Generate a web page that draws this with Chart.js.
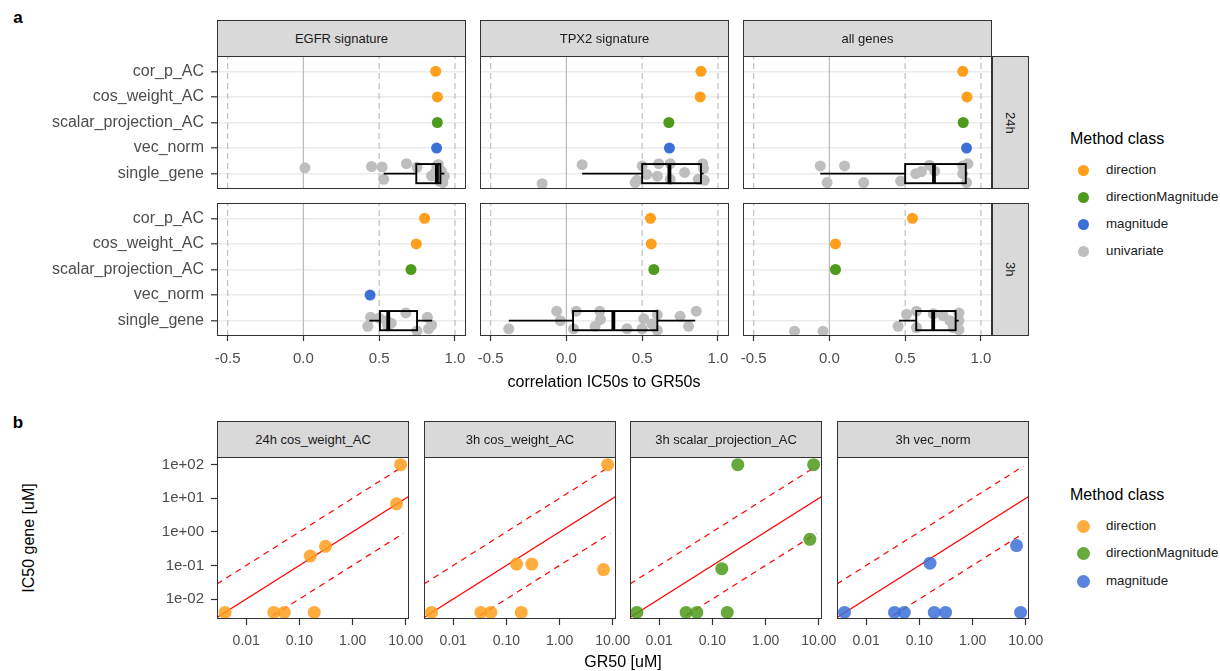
<!DOCTYPE html>
<html>
<head>
<meta charset="utf-8">
<script src="https://cdn.jsdelivr.net/npm/chart.js@4.4.1/dist/chart.umd.min.js"></script>
<style>
  body { margin: 0; background: #fff; font-family: "Liberation Sans", Arial, sans-serif; }
  #fig { position: relative; width: 1220px; height: 671px; overflow: hidden; }
  #fig canvas { position: absolute; }
  .strip { position: absolute; box-sizing: border-box; background: #d9d9d9; border: 1px solid #333;
           color: #1a1a1a; font-size: 13px; display: flex; align-items: center; justify-content: center; }
  .strip.side span { writing-mode: vertical-rl; }
  .lbl { position: absolute; white-space: nowrap; line-height: 1; }
  .dot { position: absolute; border-radius: 50%; }
</style>
</head>
<body>
<div id="fig"></div>
<script>
// ---------- panel a : correlation of IC50 to GR50 ----------
const methodNames = ['cor_p_AC', 'cos_weight_AC', 'scalar_projection_AC', 'vec_norm', 'single_gene'];
const methodClasses = ['direction', 'direction', 'directionMagnitude', 'magnitude'];
const signatureNames = ['EGFR signature', 'TPX2 signature', 'all genes'];
const timeNames = ['24h', '3h'];
const corrTicks = [-0.5, 0, 0.5, 1.0];
const vlineSolid = [0];
const vlineDashed = [-0.5, 0.5, 1.0];

// scores of the 4 methods (cor_p_AC, cos_weight_AC, scalar_projection_AC, vec_norm)
const score24hEGFR = [0.873, 0.884, 0.884, 0.879];
const score24hTPX2 = [0.888, 0.883, 0.676, 0.68];
const score24hAll  = [0.88, 0.908, 0.883, 0.905];
const score3hEGFR  = [0.80, 0.745, 0.71, 0.44];
const score3hTPX2  = [0.555, 0.56, 0.577, null];
const score3hAll   = [0.548, 0.04, 0.04, null];

// single genes: correlation and jittered row position (row 1 = single_gene)
const gene24hEGFR_x = [0.01, 0.45, 0.52, 0.53, 0.68, 0.75, 0.845, 0.87, 0.89, 0.9, 0.91, 0.92, 0.9, 0.88, 0.93];
const gene24hEGFR_y = [1.23, 1.28, 1.26, 0.78, 1.39, 1.25, 0.91, 1.05, 1.36, 0.78, 1.1, 0.65, 0.7, 1.3, 0.9];
const gene24hTPX2_x = [0.104, -0.16, 0.465, 0.53, 0.5, 0.61, 0.685, 0.685, 0.9, 0.905, 0.87, 0.91, 0.454, 0.6, 0.78];
const gene24hTPX2_y = [1.35, 0.61, 0.74, 0.97, 1.3, 1.39, 1.39, 0.78, 1.39, 1.2, 0.78, 0.74, 0.65, 0.9, 1.05];
const gene24hAll_x  = [-0.06, 0.1, -0.015, 0.226, 0.47, 0.607, 0.66, 0.695, 0.88, 0.88, 0.905, 0.914, 0.57];
const gene24hAll_y  = [1.3, 1.3, 0.65, 0.65, 0.71, 1.08, 1.33, 1.1, 1.3, 1.0, 0.65, 1.39, 1.0];
const gene3hEGFR_x  = [0.443, 0.425, 0.55, 0.557, 0.676, 0.818, 0.846, 0.826, 0.75, 0.5, 0.58];
const gene3hEGFR_y  = [1.13, 0.78, 1.0, 0.8, 1.3, 1.13, 0.83, 0.68, 0.6, 1.1, 0.9];
const gene3hTPX2_x  = [-0.38, -0.064, -0.04, 0.047, 0.065, 0.22, 0.225, 0.19, 0.4, 0.51, 0.5, 0.565, 0.6, 0.6, 0.75, 0.806, 0.857];
const gene3hTPX2_y  = [0.68, 1.37, 1.0, 0.68, 1.37, 1.37, 1.05, 0.78, 0.68, 1.07, 0.68, 0.87, 1.23, 0.62, 1.17, 0.78, 1.37];
const gene3hAll_x   = [-0.23, -0.042, 0.453, 0.509, 0.575, 0.575, 0.685, 0.75, 0.795, 0.855, 0.855, 0.855, 0.817];
const gene3hAll_y   = [0.59, 0.59, 0.78, 1.25, 1.37, 0.73, 1.27, 1.2, 1.0, 1.3, 1.0, 0.65, 0.73];

// box stats: lower whisker, q1, median, q3, upper whisker
const box24hEGFR = [0.53, 0.745, 0.881, 0.904, 0.93];
const box24hTPX2 = [0.104, 0.5, 0.68, 0.888, 0.905];
const box24hAll  = [-0.06, 0.5, 0.69, 0.9, 0.908];
const box3hEGFR  = [0.435, 0.505, 0.56, 0.75, 0.85];
const box3hTPX2  = [-0.38, 0.044, 0.31, 0.6, 0.85];
const box3hAll   = [0.46, 0.573, 0.685, 0.833, 0.853];

// ---------- panel b : IC50 vs GR50 ----------
const scatterTitles = ['24h cos_weight_AC', '3h cos_weight_AC', '3h scalar_projection_AC', '3h vec_norm'];
const scatterClasses = ['direction', 'direction', 'directionMagnitude', 'magnitude'];
const gr50_24hCos    = [0.004, 0.033, 0.052, 0.19, 0.16, 0.31, 6.7, 8.0];
const ic50_24hCos    = [0.004, 0.004, 0.004, 0.004, 0.19, 0.37, 6.8, 100];
const gr50_3hCos     = [0.0039, 0.033, 0.051, 0.19, 0.155, 0.30, 6.7, 8.0];
const ic50_3hCos     = [0.004, 0.004, 0.004, 0.004, 0.11, 0.11, 0.075, 100];
const gr50_3hScalar  = [0.0038, 0.032, 0.051, 0.19, 0.15, 0.30, 6.8, 8.0];
const ic50_3hScalar  = [0.004, 0.004, 0.004, 0.004, 0.08, 100, 0.6, 100];
const gr50_3hVec     = [0.0039, 0.034, 0.052, 0.19, 0.31, 8.0, 0.158, 6.7];
const ic50_3hVec     = [0.004, 0.004, 0.004, 0.004, 0.004, 0.004, 0.117, 0.39];
const grTicks = [0.01, 0.1, 1, 10];
const icTicks = [0.01, 0.1, 1, 10, 100];
const grRange = [0.00282, 11.5];
const icRange = [0.00254, 169];
const refFactors = [1, 10, 0.1];     // y = x, y = 10x, y = x/10
const refEnds = [11.5, 9, 9];

const legendA = ['direction', 'directionMagnitude', 'magnitude', 'univariate'];
const legendB = ['direction', 'directionMagnitude', 'magnitude'];

const colors = {
  direction: '#ff9f1c',
  directionMagnitude: '#4e9a1c',
  magnitude: '#3c70d8',
  univariate: '#bebebe'
};
const colorsB = {
  direction: 'rgba(255,159,28,0.85)',
  directionMagnitude: 'rgba(78,154,28,0.85)',
  magnitude: 'rgba(60,112,216,0.85)'
};

const FONT = '"Liberation Sans", Arial, sans-serif';
Chart.defaults.font.family = FONT;
const fig = document.getElementById('fig');

const addText = (txt, x, y, css, transform) => {
  const d = document.createElement('div');
  d.className = 'lbl';
  d.textContent = txt;
  d.style.cssText += css;
  d.style.left = x + 'px';
  d.style.top = y + 'px';
  d.style.transform = transform || 'translate(-50%,-50%)';
  fig.appendChild(d);
}

const addStrip = (txt, left, top, w, h, side) => {
  const d = document.createElement('div');
  d.className = side ? 'strip side' : 'strip';
  d.style.left = left + 'px';
  d.style.top = top + 'px';
  d.style.width = w + 'px';
  d.style.height = h + 'px';
  const s = document.createElement('span');
  s.textContent = txt;
  d.appendChild(s);
  fig.appendChild(d);
}

const addCanvas = (left, top, w, h) => {
  const c = document.createElement('canvas');
  c.width = w;
  c.height = h;
  c.style.left = left + 'px';
  c.style.top = top + 'px';
  c.style.width = w + 'px';
  c.style.height = h + 'px';
  fig.appendChild(c);
  return c;
}

// frame plugin: box plot (optional) and panel border
const framePlugin = (box) => ({
  id: 'frame',
  afterDatasetsDraw(chart) {
    const {ctx, chartArea: ca, scales: {x, y}} = chart;
    ctx.save();
    if (box) {
      const [lo, q1, med, q3, hi] = box;
      const yc = y.getPixelForValue(1);
      const half = y.getPixelForValue(1 - 0.375) - yc;
      ctx.strokeStyle = '#000';
      ctx.lineWidth = 1.9;
      ctx.beginPath();
      ctx.moveTo(x.getPixelForValue(lo), yc);
      ctx.lineTo(x.getPixelForValue(q1), yc);
      ctx.moveTo(x.getPixelForValue(q3), yc);
      ctx.lineTo(x.getPixelForValue(hi), yc);
      ctx.stroke();
      ctx.strokeRect(x.getPixelForValue(q1), yc - half, x.getPixelForValue(q3) - x.getPixelForValue(q1), 2 * half);
      ctx.lineWidth = 3.8;
      ctx.beginPath();
      ctx.moveTo(x.getPixelForValue(med), yc - half);
      ctx.lineTo(x.getPixelForValue(med), yc + half);
      ctx.stroke();
    }
    ctx.strokeStyle = '#333';
    ctx.lineWidth = 1;
    ctx.strokeRect(ca.left + 0.5, ca.top + 0.5, ca.width - 1, ca.height - 1);
    ctx.restore();
  }
});

// ---------- build panel a ----------
const colLeft = [217, 480, 743];
const colW = 249;
const rowTop = [56, 203];
const rowH = 133;

const facetsA = [
  {col: 0, row: 0, scores: score24hEGFR, gx: gene24hEGFR_x, gy: gene24hEGFR_y, box: box24hEGFR},
  {col: 1, row: 0, scores: score24hTPX2, gx: gene24hTPX2_x, gy: gene24hTPX2_y, box: box24hTPX2},
  {col: 2, row: 0, scores: score24hAll,  gx: gene24hAll_x,  gy: gene24hAll_y,  box: box24hAll},
  {col: 0, row: 1, scores: score3hEGFR,  gx: gene3hEGFR_x,  gy: gene3hEGFR_y,  box: box3hEGFR},
  {col: 1, row: 1, scores: score3hTPX2,  gx: gene3hTPX2_x,  gy: gene3hTPX2_y,  box: box3hTPX2},
  {col: 2, row: 1, scores: score3hAll,   gx: gene3hAll_x,   gy: gene3hAll_y,   box: box3hAll}
];

const createCorrChart = (f) => {
  const yAxisW = f.col === 0 ? 187 : 0;
  const padL = f.col === 0 ? 0 : 8;
  const padR = 14, padT = 6;
  const xAxisH = f.row === 1 ? 34 : 0;
  const padB = f.row === 1 ? 2 : 6;
  const canvas = addCanvas(colLeft[f.col] - yAxisW - padL, rowTop[f.row] - padT,
    padL + yAxisW + colW + padR, padT + rowH + xAxisH + padB);
  const n = methodNames.length;

  const vlines = [
    ...vlineSolid.map(v => ({type: 'line', data: [{x: v, y: 0.4}, {x: v, y: 5.6}], borderColor: '#bdbdbd', borderWidth: 1.3, pointRadius: 0, order: 5})),
    ...vlineDashed.map(v => ({type: 'line', data: [{x: v, y: 0.4}, {x: v, y: 5.6}], borderColor: '#c4c4c4', borderWidth: 1.3, borderDash: [6, 4], pointRadius: 0, order: 5}))
  ];
  const methodPts = [];
  const methodCols = [];
  f.scores.forEach((s, i) => {
    if (s === null) return;
    methodPts.push({x: s, y: n - i});
    methodCols.push(colors[methodClasses[i]]);
  });

  new Chart(canvas, {
    type: 'scatter',
    data: {
      datasets: [
        ...vlines,
        {data: f.gx.map((v, i) => ({x: v, y: f.gy[i]})), pointRadius: 5.5, pointBorderWidth: 0,
         pointBackgroundColor: colors.univariate, order: 2},
        {data: methodPts, pointRadius: 5.5, pointBorderWidth: 0, pointBackgroundColor: methodCols, order: 1}
      ]
    },
    options: {
      responsive: false,
      animation: false,
      devicePixelRatio: 1,
      layout: {padding: {left: padL, right: padR, top: padT, bottom: padB}, autoPadding: false},
      plugins: {legend: {display: false}, tooltip: {enabled: false}},
      scales: {
        x: {
          type: 'linear', min: -0.57, max: 1.073,
          afterBuildTicks: s => { s.ticks = corrTicks.map(v => ({value: v})); },
          ticks: {display: f.row === 1, font: {size: 15}, color: '#4d4d4d', padding: 9, maxRotation: 0, autoSkip: false,
                  callback: v => v.toFixed(1)},
          grid: {drawOnChartArea: false, drawTicks: f.row === 1, tickLength: 5, tickColor: '#333', tickWidth: 1.2},
          border: {display: false},
          afterFit: s => { s.height = xAxisH; s.paddingLeft = 0; s.paddingRight = 0; }
        },
        y: {
          type: 'linear', min: 0.4, max: 5.6,
          afterBuildTicks: s => { s.ticks = methodNames.map((m, i) => ({value: n - i})); },
          ticks: {display: f.col === 0, font: {size: 16}, color: '#4d4d4d', padding: 7, autoSkip: false,
                  callback: v => methodNames[n - v]},
          grid: {color: '#ebebeb', lineWidth: 1.6, drawTicks: f.col === 0, tickLength: 6, tickColor: '#333', tickWidth: 1.2},
          border: {display: false},
          afterFit: s => { s.width = yAxisW; s.paddingTop = 0; s.paddingBottom = 0; }
        }
      }
    },
    plugins: [framePlugin(f.box)]
  });
}

facetsA.forEach(createCorrChart);
signatureNames.forEach((s, i) => addStrip(s, colLeft[i], 20, colW, 37, false));
timeNames.forEach((t, i) => addStrip(t, colLeft[2] + colW, rowTop[i], 37, rowH, true));

// ---------- build panel b ----------
const bLeft = [217, 424, 630, 837];
const bW = 192;
const bTop = 457;
const bH = 162;
const facetsB = [
  {gr: gr50_24hCos, ic: ic50_24hCos},
  {gr: gr50_3hCos, ic: ic50_3hCos},
  {gr: gr50_3hScalar, ic: ic50_3hScalar},
  {gr: gr50_3hVec, ic: ic50_3hVec}
];

const createScatterChart = (f, idx) => {
  const yAxisW = idx === 0 ? 70 : 0;
  const padL = idx === 0 ? 0 : 12;
  const padR = 20, padT = 6, padB = 2;
  const xAxisH = 34;
  const canvas = addCanvas(bLeft[idx] - yAxisW - padL, bTop - padT,
    padL + yAxisW + bW + padR, padT + bH + xAxisH + padB);

  const refLines = refFactors.map((k, i) => ({
    type: 'line',
    data: [{x: grRange[0], y: k * grRange[0]}, {x: refEnds[i], y: k * refEnds[i]}],
    borderColor: '#ff0000', borderWidth: 1.2, borderDash: k === 1 ? [] : [6, 5],
    pointRadius: 0, clip: 0, order: 3
  }));

  new Chart(canvas, {
    type: 'scatter',
    data: {
      datasets: [
        ...refLines,
        {data: f.gr.map((v, i) => ({x: v, y: f.ic[i]})), pointRadius: 6.5, pointBorderWidth: 0,
         pointBackgroundColor: colorsB[scatterClasses[idx]], order: 1}
      ]
    },
    options: {
      responsive: false,
      animation: false,
      devicePixelRatio: 1,
      layout: {padding: {left: padL, right: padR, top: padT, bottom: padB}, autoPadding: false},
      plugins: {legend: {display: false}, tooltip: {enabled: false}},
      scales: {
        x: {
          type: 'logarithmic', min: grRange[0], max: grRange[1],
          afterBuildTicks: s => { s.ticks = grTicks.map(v => ({value: v})); },
          ticks: {font: {size: 14}, color: '#4d4d4d', padding: 8, maxRotation: 0, autoSkip: false,
                  callback: v => Number(v).toFixed(2)},
          grid: {drawOnChartArea: false, tickLength: 6, tickColor: '#333', tickWidth: 1.2},
          border: {display: false},
          afterFit: s => { s.height = xAxisH; s.paddingLeft = 0; s.paddingRight = 0; }
        },
        y: {
          type: 'logarithmic', min: icRange[0], max: icRange[1],
          afterBuildTicks: s => { s.ticks = icTicks.map(v => ({value: v})); },
          ticks: {display: idx === 0, font: {size: 15}, color: '#4d4d4d', padding: 7, autoSkip: false,
                  callback: v => Number(v).toExponential(0).replace(/e([+-])(\d)$/, 'e$10$2')},
          grid: {drawOnChartArea: false, drawTicks: idx === 0, tickLength: 6, tickColor: '#333', tickWidth: 1.2},
          border: {display: false},
          afterFit: s => { s.width = yAxisW; s.paddingTop = 0; s.paddingBottom = 0; }
        }
      }
    },
    plugins: [framePlugin(null)]
  });
}

facetsB.forEach(createScatterChart);
scatterTitles.forEach((t, i) => addStrip(t, bLeft[i], 421, bW, 37, false));

// ---------- titles, axis labels, legends ----------
addText('a', 18, 17, 'font-size:17px;font-weight:bold;color:#000;');
addText('b', 18, 422, 'font-size:17px;font-weight:bold;color:#000;');
addText('correlation IC50s to GR50s', 604, 382, 'font-size:16px;color:#000;');
addText('GR50 [uM]', 623, 662, 'font-size:16px;color:#000;');
addText('IC50 gene [uM]', 28.5, 538, 'font-size:16px;color:#000;', 'translate(-50%,-50%) rotate(-90deg)');

const drawLegend = (items, titleY, itemY, r, palette) => {
  addText('Method class', 1070, titleY, 'font-size:16px;color:#000;', 'translate(0,-50%)');
  items.forEach((it, i) => {
    const y = itemY[i];
    const d = document.createElement('div');
    d.className = 'dot';
    d.style.left = (1083.5 - r) + 'px';
    d.style.top = (y - r) + 'px';
    d.style.width = d.style.height = (2 * r) + 'px';
    d.style.background = palette[it];
    fig.appendChild(d);
    addText(it, 1106, y, 'font-size:13.3px;color:#1a1a1a;', 'translate(0,-50%)');
  });
}
drawLegend(legendA, 139, [170, 197, 224, 251], 5.5, colors);
drawLegend(legendB, 495, [526, 553, 581], 6.5, colorsB);
</script>
</body>
</html>
